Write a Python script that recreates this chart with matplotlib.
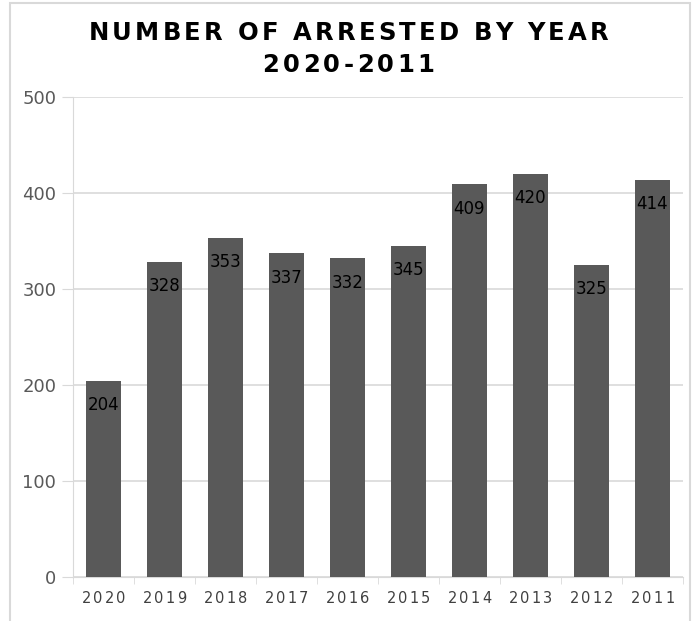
import matplotlib.pyplot as plt
from matplotlib.patches import Rectangle
from matplotlib.transforms import IdentityTransform
import numpy as np

years = ['2020', '2019', '2018', '2017', '2016', '2015', '2014', '2013', '2012', '2011']
arrested = [204, 328, 353, 337, 332, 345, 409, 420, 325, 414]

W, H = 697, 621
fig = plt.figure(figsize=(W / 100, H / 100), dpi=100)
renderer = fig.canvas.get_renderer()


def text_width(s, **kw):
    t = fig.text(0, 0, s, **kw)
    w = t.get_window_extent(renderer).width
    t.remove()
    return w


def spaced_text(cx, y_top, s, width, **kw):
    # draw a string letter by letter so it can be spread to a given width (pixels)
    base = text_width('xx', **kw)
    widths = [text_width('x' + c + 'x', **kw) - base for c in s]
    track = (width - sum(widths)) / (len(s) - 1)
    x0 = cx - width / 2
    for c, cw in zip(s, widths):
        fig.text(x0 + cw / 2, H - y_top, c, ha='center', va='baseline',
                 transform=IdentityTransform(), **kw)
        x0 += cw + track


# light outer frame of the chart area
fig.patches.append(Rectangle((10 / W, -0.1), 680 / W, 1.1 - 3 / H, transform=fig.transFigure,
                             fill=False, ec='#d9d9d9', lw=1.5))

ax = fig.add_axes([73 / W, 1 - 577 / H, 610 / W, 480 / H])
x = np.arange(len(years))
ax.bar(x, arrested, width=0.56, color='#595959', zorder=3)
for xi, v in zip(x, arrested):
    ax.annotate(str(v), (xi, v), xytext=(0, -17.5), textcoords='offset points',
                ha='center', va='center', fontsize=12, color='black', zorder=4)

ax.set_xlim(-0.5, len(years) - 0.5)
ax.set_ylim(0, 500)
ax.set_yticks(range(0, 501, 100))
ax.yaxis.grid(True, color='#d9d9d9', lw=1.2, zorder=0)
ax.tick_params(axis='y', length=8, color='#d9d9d9', labelsize=13, labelcolor='#595959', pad=4)
ax.set_xticks(x)
ax.set_xticklabels([])
ax.set_xticks(np.arange(-0.5, len(years)), minor=True)
ax.tick_params(axis='x', which='major', length=0)
ax.tick_params(axis='x', which='minor', length=5, color='#d9d9d9')
for s in ['top', 'right']:
    ax.spines[s].set_visible(False)
ax.spines['bottom'].set_color('#d9d9d9')
ax.spines['left'].set_color('#d9d9d9')

# year labels with wide letter spacing
for xi, yr in zip(x, years):
    px = ax.transData.transform((xi, 0))[0]
    spaced_text(px, 603, yr, 44, fontsize=10.5, color='#404040')

spaced_text(W / 2, 40, 'NUMBER OF ARRESTED BY YEAR', 520, fontsize=17.5, fontweight='bold', color='black')
spaced_text(W / 2, 72, '2020-2011', 172, fontsize=17.5, fontweight='bold', color='black')

fig.savefig('out.png', dpi=100)
